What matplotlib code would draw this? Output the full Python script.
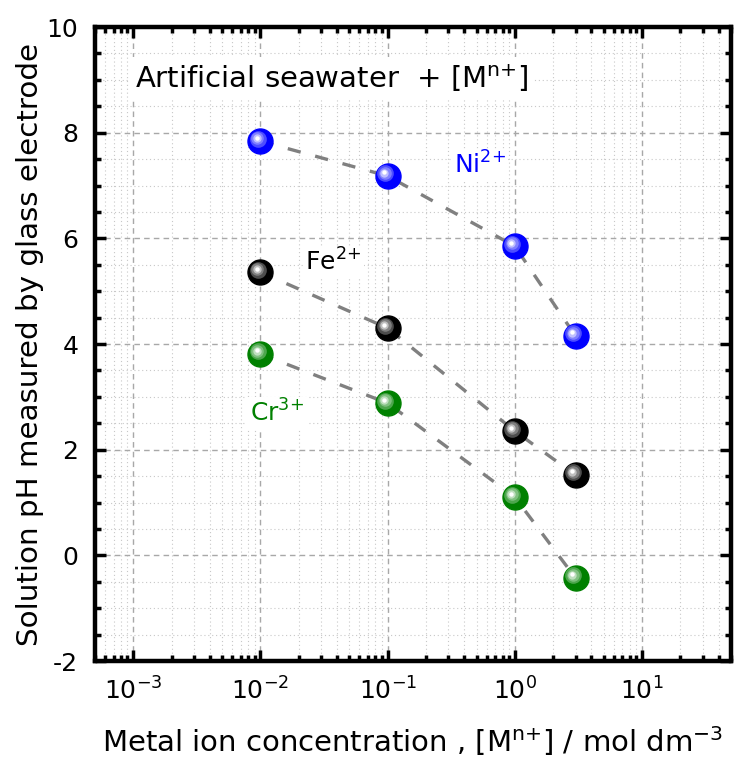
import numpy as np
import matplotlib
matplotlib.use("Agg")
import matplotlib.pyplot as plt
from matplotlib import transforms
from matplotlib.ticker import LogLocator, MultipleLocator, FixedLocator, FuncFormatter
from matplotlib.colors import to_rgb

plt.rcParams["font.family"] = ["DejaVu Sans"]
plt.rcParams["axes.unicode_minus"] = False
plt.rcParams["mathtext.default"] = "regular"

# Metal ion concentration (mol dm^-3) and measured pH
conc = [0.01, 0.1, 1.0, 3.0]
ph_ni = [7.84, 7.18, 5.85, 4.15]
ph_fe = [5.36, 4.30, 2.35, 1.52]
ph_cr = [3.81, 2.88, 1.10, -0.43]

series = [
    ("Ni$^{2{+}}$", ph_ni, "#0000ff", (0.33, 7.39)),
    ("Fe$^{2{+}}$", ph_fe, "#000000", (0.0225, 5.55)),
    ("Cr$^{3{+}}$", ph_cr, "#008000", (0.0083, 2.69)),
]

x_ticks = [1e-3, 1e-2, 1e-1, 1e0, 1e1]
y_ticks = [-2, 0, 2, 4, 6, 8, 10]

fig = plt.figure(figsize=(7.34, 7.61), dpi=100)
ax = fig.add_axes([0.1294, 0.1314, 0.8665, 0.8331])

ax.set_xscale("log")
ax.set_xlim(5e-4, 50)
ax.set_ylim(-2, 10)

ax.xaxis.set_major_locator(FixedLocator(x_ticks))
ax.xaxis.set_minor_locator(LogLocator(base=10, subs=np.arange(2, 10), numticks=20))
ax.xaxis.set_major_formatter(FuncFormatter(lambda v, p: r"10$^{%d}$" % int(round(np.log10(v)))))
ax.yaxis.set_major_locator(FixedLocator(y_ticks))
ax.yaxis.set_minor_locator(MultipleLocator(0.5))

ax.grid(which="major", color="#a8a8a8", linestyle=(0, (4, 3)), linewidth=1.0)
ax.grid(which="minor", color="#c8c8c8", linestyle=(0, (1, 2.5)), linewidth=0.8)
ax.set_axisbelow(True)

for s in ax.spines.values():
    s.set_linewidth(3.2)

ax.tick_params(which="both", direction="in", top=True, right=True, width=2.5)
ax.tick_params(which="major", length=8, labelsize=18, pad=12)
ax.tick_params(which="minor", length=4)

ax.set_xlabel("Metal ion concentration , [M$^{n{+}}$] / mol dm$^{-3}$", fontsize=21, labelpad=14)
ax.set_ylabel("Solution pH measured by glass electrode", fontsize=21.2, labelpad=2)


def sphere(ax, xs, ys, color):
    base = np.array(to_rgb(color))
    white = np.ones(3)
    ax.plot(xs, ys, "o", ms=18, color=base, mec=base, zorder=5)
    layers = [(12, 0.3, 2.6), (9, 0.5, 3.0), (6, 0.75, 3.4), (3.2, 1.0, 3.6)]
    for size, mix, off in layers:
        tr = transforms.offset_copy(ax.transData, fig=fig, x=-off, y=off, units="dots")
        c = base * (1 - mix) + white * mix
        ax.plot(xs, ys, "o", ms=size, color=c, mec="none", transform=tr, zorder=6)


for label, ph, color, (tx, ty) in series:
    ax.plot(conc, ph, color="#808080", linewidth=2.4, linestyle=(0, (4, 4.5)), zorder=3)
    sphere(ax, conc, ph, color)
    ax.text(tx, ty, label, color=color, fontsize=18, ha="left", va="center",
            bbox=dict(facecolor="white", edgecolor="none", pad=2), zorder=4)

ax.text(1.03e-3, 9.03, "Artificial seawater  + [M$^{n{+}}$]", fontsize=21,
        ha="left", va="center",
        bbox=dict(facecolor="white", edgecolor="none", pad=4), zorder=4)

fig.savefig("out.png", dpi=100)
